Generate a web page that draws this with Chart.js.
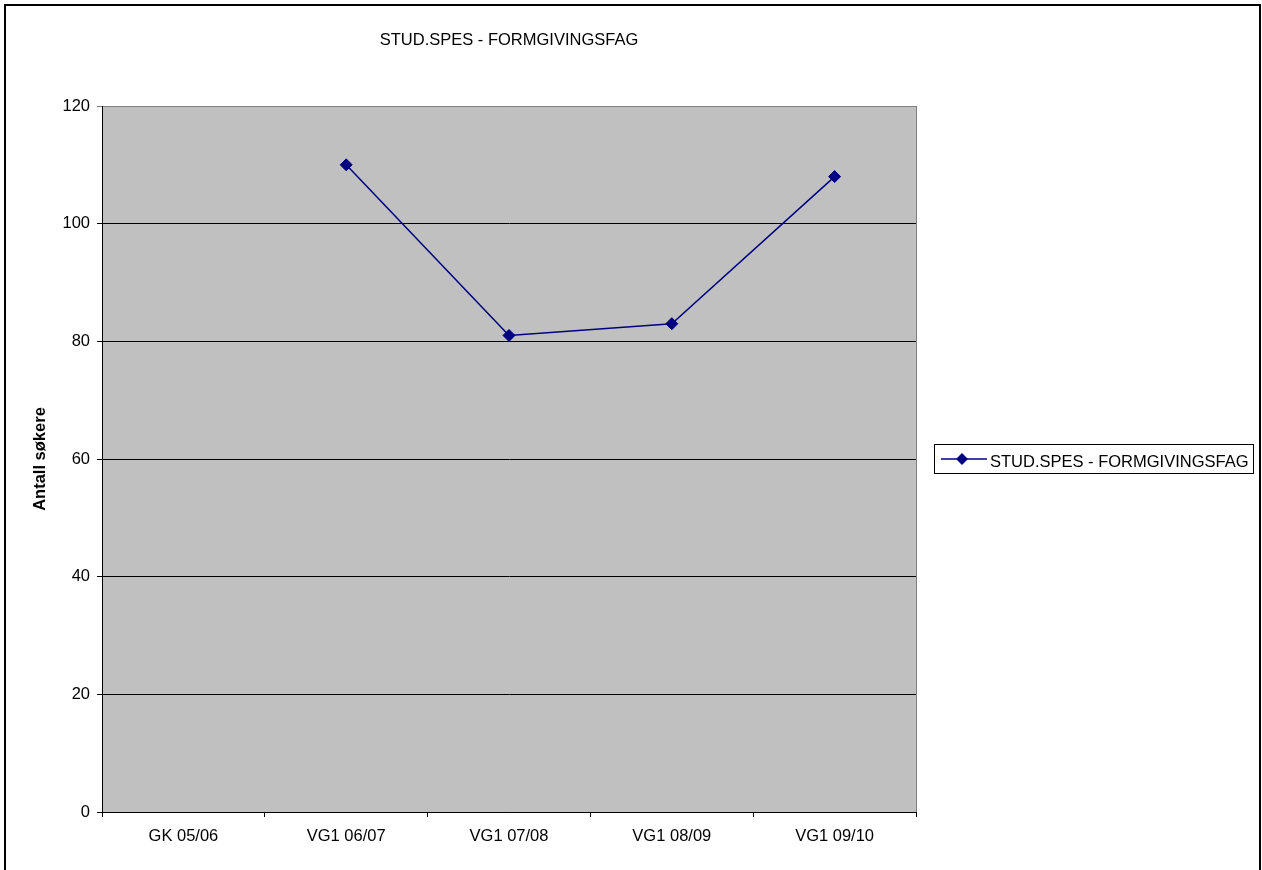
<!DOCTYPE html>
<html>
<head>
<meta charset="utf-8">
<script src="https://cdn.jsdelivr.net/npm/chart.js@4"></script>
<style>
html,body{margin:0;padding:0;background:#fff;}
#wrap{width:1262px;height:870px;position:relative;}
</style>
</head>
<body>
<div id="wrap"><canvas id="c" width="1262" height="870"></canvas></div>
<script>
const categories = ["GK 05/06", "VG1 06/07", "VG1 07/08", "VG1 08/09", "VG1 09/10"];
const seriesName = "STUD.SPES - FORMGIVINGSFAG";
const seriesValues = [null, 110, 81, 83, 108];
const chartTitle = "STUD.SPES - FORMGIVINGSFAG";
const yAxisTitle = "Antall søkere";
const yMin = 0, yMax = 120, yStep = 20;

const FONT = "'Liberation Sans', Arial, sans-serif";
const NAVY = "#000080";

const decor = {
  id: 'decor',
  beforeDraw(chart) {
    const {ctx, chartArea: a} = chart;
    ctx.save();
    ctx.fillStyle = '#fff';
    ctx.fillRect(0, 0, chart.width, chart.height);
    ctx.fillStyle = '#C0C0C0';
    ctx.fillRect(a.left, a.top, a.right - a.left, a.bottom - a.top);
    ctx.restore();
  },
  afterDraw(chart) {
    const {ctx, chartArea: a} = chart;
    ctx.save();
    // plot area right border (grey)
    ctx.strokeStyle = '#808080';
    ctx.lineWidth = 1;
    ctx.beginPath();
    ctx.moveTo(Math.round(a.right) + 0.5, a.top);
    ctx.lineTo(Math.round(a.right) + 0.5, a.bottom);
    ctx.stroke();
    // outer border
    ctx.strokeStyle = '#000';
    ctx.lineWidth = 2;
    ctx.strokeRect(5, 5, 1255, 900);
    // title
    ctx.fillStyle = '#000';
    ctx.font = "16.5px " + FONT;
    ctx.textAlign = 'center';
    ctx.textBaseline = 'alphabetic';
    ctx.fillText(chartTitle, (a.left + a.right) / 2, 45);
    // legend
    const ds = chart.data.datasets[0];
    ctx.strokeStyle = '#000';
    ctx.lineWidth = 1;
    ctx.strokeRect(934.5, 444.5, 319, 29);
    ctx.strokeStyle = ds.borderColor;
    ctx.lineWidth = 1.5;
    ctx.beginPath();
    ctx.moveTo(941, 459);
    ctx.lineTo(987, 459);
    ctx.stroke();
    ctx.fillStyle = ds.pointBackgroundColor;
    ctx.beginPath();
    ctx.moveTo(962, 453); ctx.lineTo(968, 459); ctx.lineTo(962, 465); ctx.lineTo(956, 459);
    ctx.closePath();
    ctx.fill();
    ctx.fillStyle = '#000';
    ctx.textAlign = 'left';
    ctx.fillText(ds.label, 990, 467);
    ctx.restore();
  }
};

new Chart(document.getElementById('c'), {
  type: 'line',
  data: {
    labels: categories,
    datasets: [{
      label: seriesName,
      data: seriesValues,
      borderColor: NAVY,
      backgroundColor: NAVY,
      pointBackgroundColor: NAVY,
      pointBorderColor: NAVY,
      borderWidth: 1.5,
      pointStyle: 'rectRot',
      pointRadius: 6,
      pointBorderWidth: 1,
      tension: 0,
      fill: false
    }]
  },
  options: {
    responsive: false,
    animation: false,
    devicePixelRatio: 1,
    layout: { padding: { left: 0, top: 106, right: 346, bottom: 0 } },
    plugins: {
      legend: { display: false },
      title: { display: false },
      tooltip: { enabled: false }
    },
    scales: {
      x: {
        type: 'category',
        offset: true,
        grid: { offset: true, drawOnChartArea: false, drawTicks: true, tickLength: 5, color: '#000', lineWidth: 1 },
        border: { display: true, color: '#000', width: 1 },
        ticks: { color: '#000', font: { family: FONT, size: 16.5 }, padding: 10, maxRotation: 0, autoSkip: false },
        afterFit(scale) { scale.height = 58; }
      },
      y: {
        min: yMin, max: yMax,
        ticks: { stepSize: yStep, color: '#000', font: { family: FONT, size: 16.5 }, padding: 7 },
        grid: {
          drawTicks: true, tickLength: 5, lineWidth: 1,
          color: (c) => (c.tick && c.tick.value === yMax) ? '#808080' : '#000'
        },
        border: { display: true, color: '#000', width: 1 },
        title: { display: true, text: yAxisTitle, color: '#000', font: { family: FONT, size: 16.5, weight: 'bold' }, padding: { top: 31, bottom: 0 } },
        afterFit(scale) { scale.width = 102; }
      }
    }
  },
  plugins: [decor]
});
</script>
</body>
</html>
